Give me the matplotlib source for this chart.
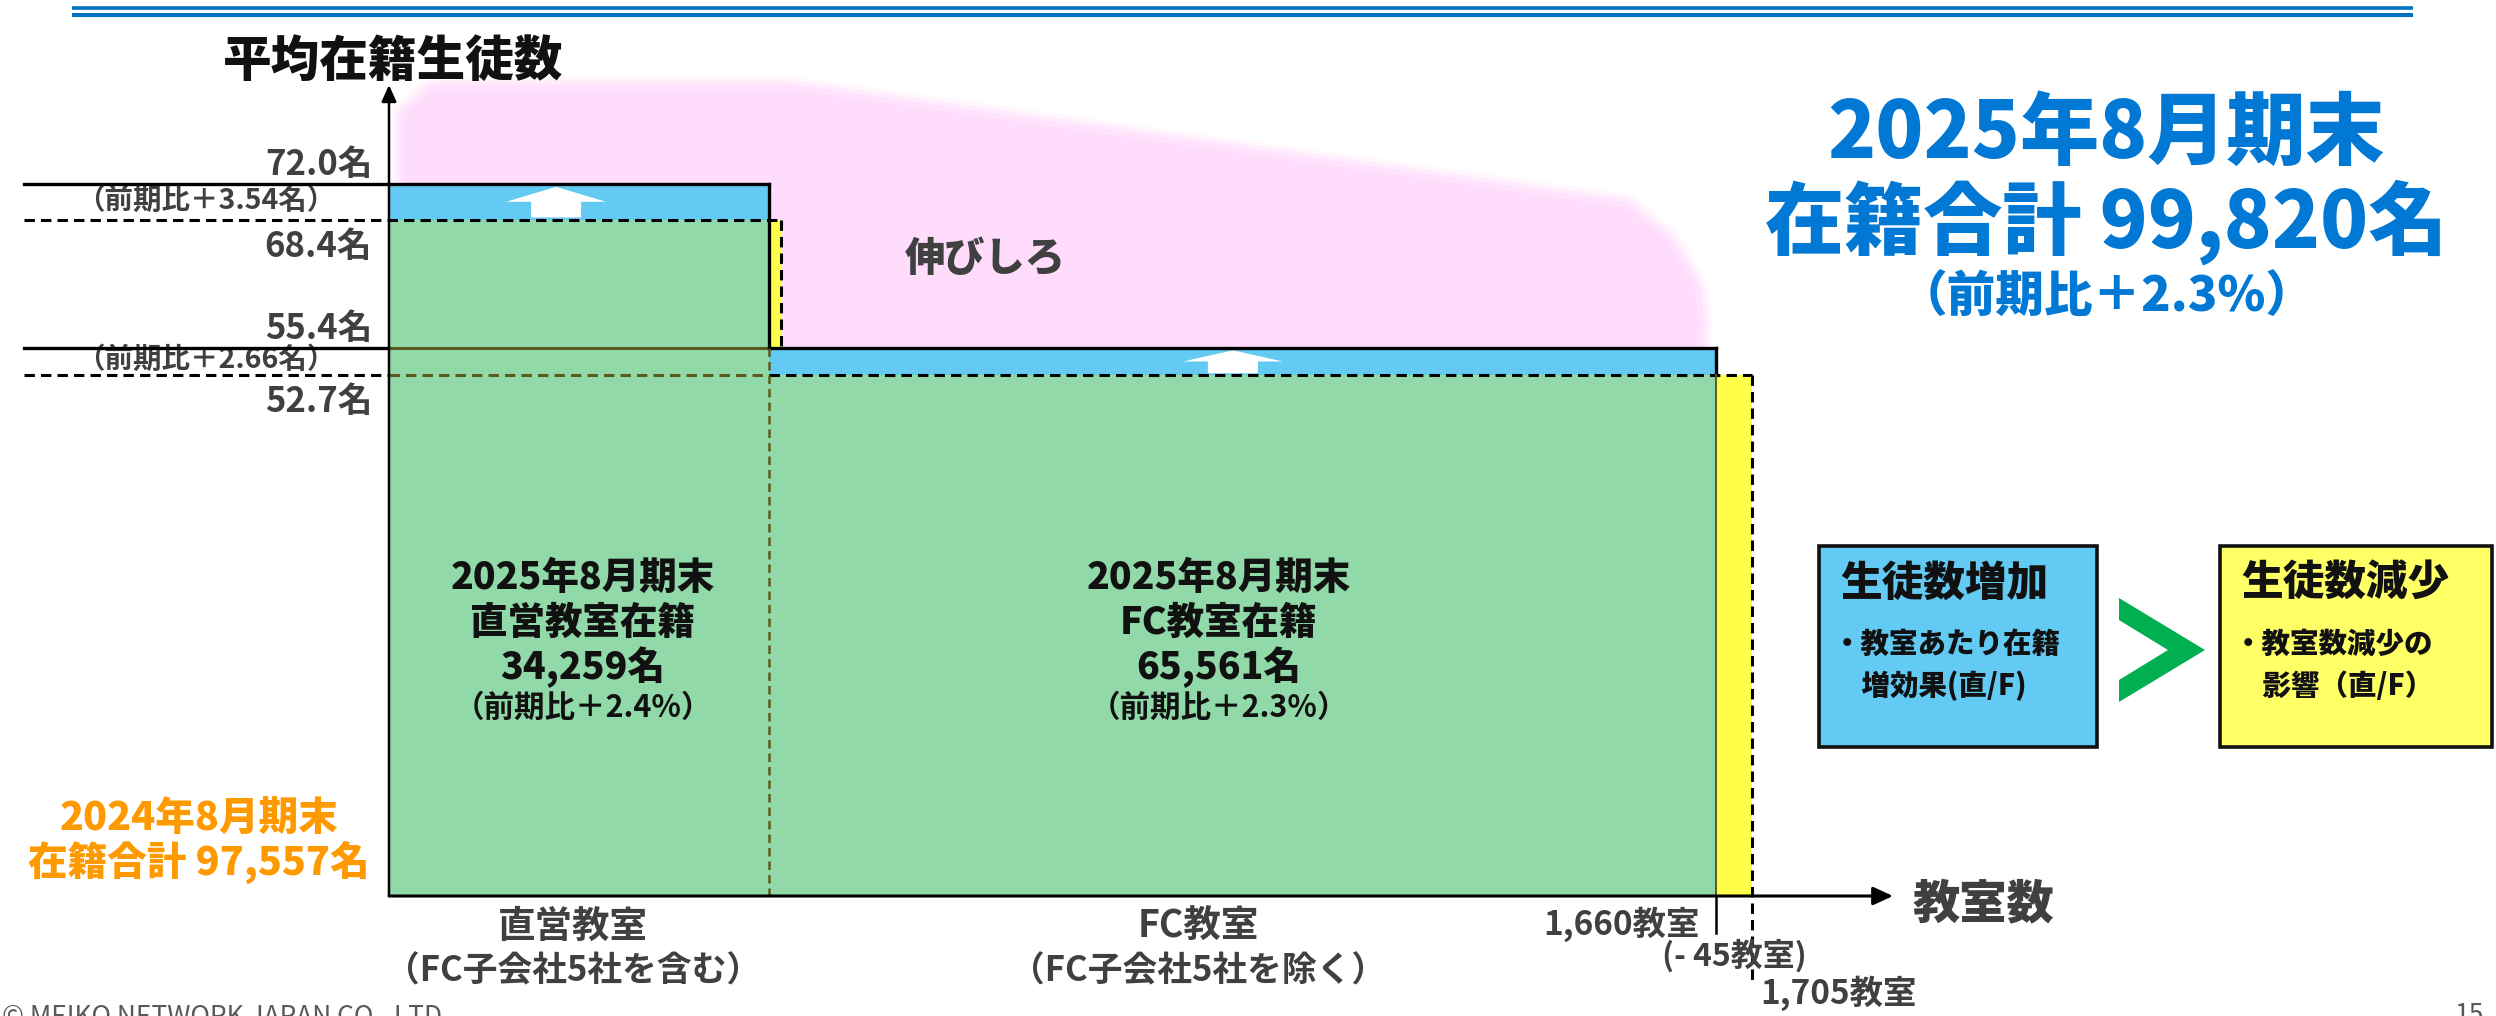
import matplotlib
matplotlib.use("Agg")
import matplotlib.pyplot as plt
from matplotlib.patches import Rectangle, Polygon

plt.rcParams['font.family'] = ['Noto Sans CJK JP', 'DejaVu Sans']

# -----------------------------
# Data
# -----------------------------
segments = ["直営教室", "FC教室"]
segment_notes = ["（FC子会社5社を含む）", "（FC子会社5社を除く）"]
segment_titles = ["直営教室在籍", "FC教室在籍"]
rooms_now = [475, 1185]        # 2025年8月期末 (計 1,660教室)
rooms_prev = [490, 1215]       # 2024年8月期末 (計 1,705教室)
avg_now = [72.0, 55.4]         # 平均在籍生徒数
avg_prev = [68.4, 52.7]
avg_diff = ["3.54", "2.66"]
students_now = ["34,259", "65,561"]
students_yoy = ["2.4%", "2.3%"]
total_now = "99,820"
total_prev = "97,557"
total_yoy = "2.3%"

# -----------------------------
# Colours
# -----------------------------
GREEN = "#92d9a9"
BLUE = "#63caf3"
YELLOW = "#ffff4a"
PINK = "#ffdcfc"
OLIVE = "#5c5a1c"
GRAY = "#404040"
INK = "#111111"
TITLE_BLUE = "#0078d4"
ORANGE = "#ff9900"

# -----------------------------
# Layout (pixels of the 2496x1016 canvas, measured from top-left)
# -----------------------------
W, H = 2496, 1016
X0_PX, X1_PX = 389, 1716       # x = 0 and x = total rooms now
Y0_PX, Y1_PX = 896, 184        # y = 0 and y = avg_now[0]
XS = (X1_PX - X0_PX) / sum(rooms_now)
YS = (Y0_PX - Y1_PX) / avg_now[0]


def dx(px):
    return (px - X0_PX) / XS


def dy(py):
    return (Y0_PX - py) / YS


def fxy(px, py):
    return px / W, 1 - py / H


fig = plt.figure(figsize=(W / 100, H / 100), dpi=100, facecolor="white")
ax = fig.add_axes([0, 0, 1, 1])
ax.set_xlim(dx(0), dx(W))
ax.set_ylim(dy(H), dy(0))
ax.axis("off")

# -----------------------------
# Header lines
# -----------------------------
for py, lw in [(7.5, 2.6), (15, 2.9)]:
    ax.plot([fxy(72, py)[0], fxy(2413, py)[0]], [fxy(72, py)[1]] * 2,
            transform=fig.transFigure, color="#0070c0", lw=lw, solid_capstyle="butt")

# -----------------------------
# Pink "headroom" blob (soft edge)
# -----------------------------
blob_px = [(412, 360), (412, 118), (436, 97), (790, 97), (1622, 214),
           (1662, 246), (1688, 290), (1692, 322), (1690, 360)]
blob = [fxy(*p) for p in blob_px]
for lw, a in [(30, 0.25), (24, 0.35), (18, 0.6)]:
    ax.add_patch(Polygon(blob, closed=True, fill=False, ec=PINK, lw=lw, alpha=a,
                         joinstyle="round", transform=fig.transFigure, zorder=0))
ax.add_patch(Polygon(blob, closed=True, fc=PINK, ec=PINK, lw=10,
                     joinstyle="round", transform=fig.transFigure, zorder=0.5))

# -----------------------------
# Bars: previous (yellow) and current (green + blue increase)
# -----------------------------
left_now = [0, rooms_now[0]]
left_prev = [0, rooms_prev[0]]
for i in range(2):
    ax.add_patch(Rectangle((left_prev[i], 0), rooms_prev[i], avg_prev[i],
                           fc=YELLOW, ec="none", zorder=2))
for i in range(2):
    ax.add_patch(Rectangle((left_now[i], 0), rooms_now[i], avg_prev[i],
                           fc=GREEN, ec="none", zorder=3))
    ax.add_patch(Rectangle((left_now[i], avg_prev[i]), rooms_now[i],
                           avg_now[i] - avg_prev[i], fc=BLUE, ec="none", zorder=3))

# white up arrows in the increase bands
arrow_pos = [0.44, 0.49]
hw, sw = 50 / XS, 25 / XS
for i in range(2):
    cx = left_now[i] + rooms_now[i] * arrow_pos[i]
    b, h = avg_prev[i], avg_now[i] - avg_prev[i]
    tip, base, bot = b + 0.92 * h, b + 0.5 * h, b + 0.06 * h
    ax.add_patch(Polygon([(cx, tip), (cx + hw, base), (cx + sw, base), (cx + sw, bot),
                          (cx - sw, bot), (cx - sw, base), (cx - hw, base)],
                         closed=True, fc="white", ec="none", zorder=5))

# -----------------------------
# Guide lines and outlines
# -----------------------------
guide_left = dx(24)
dash = (0, (3.4, 2.0))
end_now = [left_now[i] + rooms_now[i] for i in range(2)]
end_prev = [left_prev[i] + rooms_prev[i] for i in range(2)]

ax.plot([guide_left, end_now[0]], [avg_now[0]] * 2, color="black", lw=2.4, zorder=6)
ax.plot([guide_left, end_prev[0]], [avg_prev[0]] * 2, color="black", lw=2.2, ls=dash, zorder=6)

ax.plot([guide_left, 0], [avg_now[1]] * 2, color="black", lw=2.4, zorder=6)
ax.plot([0, end_now[0]], [avg_now[1]] * 2, color=OLIVE, lw=2.2, zorder=6)
ax.plot([end_now[0], end_now[1]], [avg_now[1]] * 2, color="black", lw=2.4, zorder=6)

ax.plot([guide_left, 0], [avg_prev[1]] * 2, color="black", lw=2.2, ls=dash, zorder=6)
ax.plot([0, end_now[0]], [avg_prev[1]] * 2, color=OLIVE, lw=2.2, ls=dash, zorder=6)
ax.plot([end_now[0], end_prev[1]], [avg_prev[1]] * 2, color="black", lw=2.2, ls=dash, zorder=6)

# verticals
ax.plot([end_now[0]] * 2, [avg_now[0], avg_now[1]], color="black", lw=2.4, zorder=6)
ax.plot([end_now[0]] * 2, [avg_now[1], 0], color=OLIVE, lw=1.8, ls=dash, zorder=6)
ax.plot([end_prev[0]] * 2, [avg_prev[0], avg_now[1]], color="black", lw=2.2, ls=dash, zorder=6)
ax.plot([end_now[1]] * 2, [avg_now[1], avg_prev[1]], color="black", lw=2.4, zorder=6)
ax.plot([end_now[1]] * 2, [avg_prev[1], 0], color=OLIVE, lw=1.4, zorder=6)
ax.plot([end_now[1]] * 2, [0, dy(933)], color="black", lw=1.8, zorder=6)
ax.plot([end_prev[1]] * 2, [avg_prev[1], dy(983)], color="black", lw=2.2, ls=dash, zorder=6)

# axes with arrow heads
ax.annotate("", xy=(0, dy(85)), xytext=(0, 0), zorder=7,
            arrowprops=dict(arrowstyle="-|>,head_length=1.0,head_width=0.45",
                            color="black", lw=1.8, shrinkA=0, shrinkB=0))
ax.annotate("", xy=(dx(1893), 0), xytext=(0, 0), zorder=7,
            arrowprops=dict(arrowstyle="-|>,head_length=1.2,head_width=0.55",
                            color="black", lw=2.2, shrinkA=0, shrinkB=0))

# -----------------------------
# Texts
# -----------------------------
bold = dict(fontweight="bold")
heavy = dict(fontweight="heavy")

fig.text(*fxy(393, 62), "平均在籍生徒数", ha="center", va="center", fontsize=35, color=INK, **heavy)
fig.text(*fxy(1984, 904), "教室数", ha="center", va="center", fontsize=34, color=GRAY, **heavy)

# value labels on the left
for i in range(2):
    ax.annotate(f"{avg_now[i]:.1f}名", xy=(0, avg_now[i]), xytext=(-12, 14),
                textcoords="offset points", ha="right", va="center",
                fontsize=25, color=GRAY, **bold)
    ax.annotate(f"（前期比＋{avg_diff[i]}名）", xy=(dx(206), (avg_now[i] + avg_prev[i]) / 2),
                xytext=(0, 1), textcoords="offset points",
                ha="center", va="center", fontsize=20.5, color=GRAY, **bold)
    ax.annotate(f"{avg_prev[i]:.1f}名", xy=(0, avg_prev[i]), xytext=(-12, -19),
                textcoords="offset points", ha="right", va="center",
                fontsize=25, color=GRAY, **bold)

# texts inside bars
text_pos = [0.51, 0.475]
for i in range(2):
    cx = left_now[i] + rooms_now[i] * text_pos[i]
    ax.text(cx, dy(578), "2025年8月期末", ha="center", va="center", fontsize=27, color=INK, zorder=8, **heavy)
    ax.text(cx, dy(623), segment_titles[i], ha="center", va="center", fontsize=27, color=INK, zorder=8, **heavy)
    ax.text(cx, dy(667), f"{students_now[i]}名", ha="center", va="center", fontsize=27, color=INK, zorder=8, **heavy)
    ax.text(cx, dy(708), f"（前期比＋{students_yoy[i]}）", ha="center", va="center", fontsize=22, color=INK, zorder=8, **bold)

# category labels below the x axis
label_pos = [0.484, 0.453]
for i in range(2):
    cx = left_now[i] + rooms_now[i] * label_pos[i]
    ax.text(cx, dy(926), segments[i], ha="center", va="center", fontsize=27, color=GRAY, **bold)
    ax.text(cx, dy(971), segment_notes[i], ha="center", va="center", fontsize=25, color=GRAY, **bold)

# classroom counts
n_now, n_prev = sum(rooms_now), sum(rooms_prev)
ax.text(n_now - 16 / XS, dy(924), f"{n_now:,}教室", ha="right", va="center", fontsize=24, color=GRAY, **bold)
ax.text((n_now + n_prev) / 2, dy(956), f"(- {n_prev - n_now}教室)", ha="center", va="center",
        fontsize=23, color=GRAY, zorder=8, **bold)
ax.text(n_prev + 8 / XS, dy(993), f"{n_prev:,}教室", ha="left", va="center", fontsize=24, color=GRAY, **bold)

ax.text(dx(985), dy(259), "伸びしろ", ha="center", va="center", fontsize=29, color=GRAY, zorder=8, **heavy)

# previous total (orange)
fig.text(*fxy(199, 818), "2024年8月期末", ha="center", va="center", fontsize=28.5, color=ORANGE, **heavy)
fig.text(*fxy(199, 862), f"在籍合計 {total_prev}名", ha="center", va="center", fontsize=28.5, color=ORANGE, **heavy)

# headline total (blue)
fig.text(*fxy(2106, 134), "2025年8月期末", ha="center", va="center", fontsize=57, color=TITLE_BLUE, **heavy)
fig.text(*fxy(2106, 222), f"在籍合計 {total_now}名", ha="center", va="center", fontsize=57, color=TITLE_BLUE, **heavy)
fig.text(*fxy(2107, 298), f"（前期比＋{total_yoy}）", ha="center", va="center", fontsize=35, color=TITLE_BLUE, **heavy)

# -----------------------------
# Comparison boxes on the right
# -----------------------------
boxes = [
    (1819, 2097, BLUE, "生徒数増加", ["・教室あたり在籍", "　増効果(直/F)"]),
    (2220, 2492, "#ffff66", "生徒数減少", ["・教室数減少の", "　影響（直/F）"]),
]
for x0, x1, col, head, lines in boxes:
    (fx0, fy1), (fx1, fy0) = fxy(x0, 546), fxy(x1, 747)
    ax.add_patch(Rectangle((fx0, fy0), fx1 - fx0, fy1 - fy0, transform=fig.transFigure,
                           fc=col, ec=INK, lw=2.6, zorder=4))
    fig.text(*fxy(x0 + 21, 584), head, ha="left", va="center", fontsize=30, color=INK, **heavy)
    fig.text(*fxy(x0 + 14, 644), lines[0], ha="left", va="center", fontsize=20.5, color=INK, **heavy)
    fig.text(*fxy(x0 + 14, 686), lines[1], ha="left", va="center", fontsize=20.5, color=INK, **heavy)

chevron = [fxy(2119, 598), fxy(2205, 650), fxy(2119, 702),
           fxy(2119, 680), fxy(2168, 650), fxy(2119, 620)]
ax.add_patch(Polygon(chevron, closed=True, fc="#00b050", ec="none", transform=fig.transFigure, zorder=4))

# footer (cut by the bottom edge, as on the slide)
fig.text(*fxy(2, 1004), "© MEIKO NETWORK JAPAN CO., LTD.", ha="left", va="top", fontsize=19, color="#595959")
fig.text(*fxy(2484, 1002), "15", ha="right", va="top", fontsize=19, color="#595959")

fig.savefig("out.png", dpi=100, facecolor="white")
